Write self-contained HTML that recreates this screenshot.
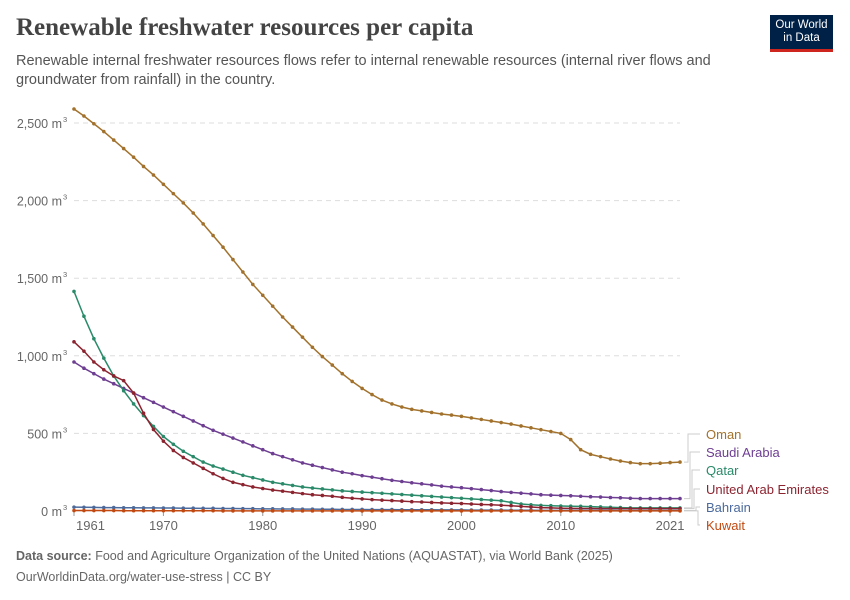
<!DOCTYPE html>
<html><head><meta charset="utf-8"><style>
body{margin:0;background:#fff;font-family:"Liberation Sans",sans-serif;}
#wrap{position:relative;width:850px;height:600px;overflow:hidden;}
.t{position:absolute;white-space:nowrap;}
</style></head><body>
<div id="wrap">
<div class="t" style="left:16px;top:14px;font-family:'Liberation Serif',serif;font-size:25px;font-weight:bold;color:#444;">Renewable freshwater resources per capita</div>
<div class="t" style="left:16px;top:52px;font-size:14.5px;color:#555;line-height:19px;white-space:normal;width:730px;">Renewable internal freshwater resources flows refer to internal renewable resources (internal river flows and groundwater from rainfall) in the country.</div>
<div style="position:absolute;left:770px;top:15px;width:63px;height:37px;background:#002147;border-bottom:3px solid #ce261e;box-sizing:border-box;color:#fff;font-size:11.5px;line-height:13px;text-align:center;padding-top:4px;">Our World<br>in Data</div>
<svg id="chart" width="850" height="600" style="position:absolute;left:0;top:0"></svg>
<div class="t" style="left:16px;top:549px;font-size:12.5px;color:#666;"><b>Data source:</b> Food and Agriculture Organization of the United Nations (AQUASTAT), via World Bank (2025)</div>
<div class="t" style="left:16px;top:570px;font-size:12.5px;color:#666;">OurWorldinData.org/water-use-stress | CC BY</div>
</div>
<script>
const startYear=1961;
const yTicks=[0,500,1000,1500,2000,2500];
const xTicks=[1961,1970,1980,1990,2000,2010,2021];
const oman=[2590,2545,2495,2445,2390,2335,2280,2220,2165,2105,2045,1985,1920,1850,1775,1700,1620,1540,1460,1390,1320,1250,1185,1120,1055,995,940,885,835,790,750,715,690,670,655,645,635,625,618,610,600,590,580,570,560,548,536,524,512,500,460,395,365,350,335,322,312,305,305,308,312,315];
const saudi=[960,920,885,850,820,790,760,730,700,670,640,610,580,550,520,495,470,445,420,395,370,350,330,310,295,280,265,250,240,228,218,208,198,190,182,175,168,160,155,150,144,138,132,125,120,115,110,105,102,100,98,95,92,90,87,85,82,80,80,80,80,80];
const qatar=[1415,1255,1110,985,870,775,690,615,545,480,430,385,350,315,290,270,250,230,215,200,185,175,165,155,148,142,136,130,126,122,118,114,110,106,102,98,94,90,86,82,78,74,70,66,55,45,40,36,34,32,31,30,28,26,24,22,20,20,20,20,20,20];
const uae=[1090,1030,960,910,870,840,760,630,525,450,390,345,310,275,240,210,185,170,155,145,135,128,120,112,105,100,95,88,82,78,73,70,67,64,60,58,55,52,50,48,45,42,40,37,34,30,26,22,20,18,17,16,16,15,15,15,15,15,15,15,15,15];
const bahrain=[25,24,23,22,22,21,21,20,20,19,19,18,18,17,17,16,16,15,15,14,14,13,13,12,12,11,11,10,10,10,9,9,9,8,8,8,8,7,7,7,6,6,6,6,5,5,5,4,4,4,4,4,4,4,4,3,3,3,3,3,3,3];
const kuwait=[3,3,3,3,3,2,2,2,2,2,2,2,2,2,2,1,1,1,1,1,1,1,1,1,1,1,1,1,1,1,1,1,1,1,1,1,1,1,1,1,1,1,1,1,1,1,1,1,1,1,1,1,1,1,1,1,1,1,1,1,1,1];
const names=["Oman","Saudi Arabia","Qatar","United Arab Emirates","Bahrain","Kuwait"];
const series=[oman,saudi,qatar,uae,bahrain,kuwait];
const colors=["#a2722d","#6d3e91","#2a8a6a","#8c2430","#4c6a9c","#c14a12"];
const labelY=[439,457,475,494,512,530];
const ns="http://www.w3.org/2000/svg";
const svg=document.getElementById('chart');
const X=y=>74+(y-1961)*(606/61);
const Y=v=>511-v*(388/2500);
function mk(t,a){const e=document.createElementNS(ns,t);for(const k in a)e.setAttribute(k,a[k]);svg.appendChild(e);return e;}
yTicks.forEach(v=>{
 const g=mk('line',{x1:74,x2:680,y1:Y(v),y2:Y(v),stroke:'#ddd','stroke-dasharray':v?'5,4':'none'});
 
 
 const t=mk('text',{x:62,y:Y(v)+5,'text-anchor':'end','font-size':'12.5','fill':'#666'});
 t.textContent=v.toLocaleString('en-US')+' m';
 
 
 const s=mk('text',{x:63,y:Y(v)-1,'font-size':'7.5','fill':'#666'});
 s.textContent='3';
 
 
});
xTicks.forEach((yr,i)=>{
 const tk=mk('line',{x1:X(yr),x2:X(yr),y1:511,y2:516,stroke:'#999'});
 
 
 const t=mk('text',{x:i==0?X(yr)+2:X(yr),y:530,'text-anchor':i==0?'start':'middle','font-size':'13','fill':'#666'});
 t.textContent=yr;
 
 
});
series.forEach((d,si)=>{
 const pts=d.map((v,i)=>X(startYear+i)+','+Y(v)).join(' ');
 const pl=mk('polyline',{points:pts,fill:'none',stroke:colors[si],'stroke-width':1.5});
 
 
 d.forEach((v,i)=>{
  const c=mk('circle',{cx:X(startYear+i),cy:Y(v),r:1.8,fill:colors[si]});
  
  
 });
 const endY=Y(d[d.length-1]);
 const ly=labelY[si]-5;
 const mx=688+si*2;
 const con=mk('polyline',{points:`684,${endY} ${mx},${endY} ${mx},${ly} 700,${ly}`,fill:'none',stroke:'#ccc','stroke-width':1});
 
 
 const t=mk('text',{x:706,y:labelY[si],'font-size':'13','fill':colors[si]});
 t.textContent=names[si];
 
 
});
</script>
</body></html>
